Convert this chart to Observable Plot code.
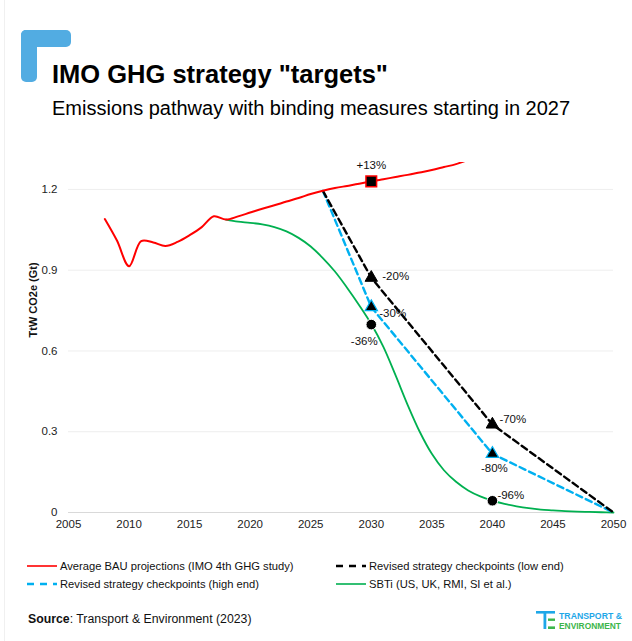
<!DOCTYPE html>
<html><head><meta charset="utf-8">
<script src="https://cdn.jsdelivr.net/npm/d3@7"></script>
<script src="https://cdn.jsdelivr.net/npm/@observablehq/plot@0.6"></script>
<style>
body{margin:0;background:#fff;font-family:"Liberation Sans",Arial,sans-serif;color:#000;}
#wrap{position:relative;width:632px;height:641px;overflow:hidden;background:#fff;}
.abs{position:absolute;white-space:nowrap;}
.leg{display:flex;align-items:center;height:14px;font-size:11.2px;color:#111;}
.leg svg{margin-right:3px;}
</style></head><body><div id="wrap">
<div class="abs" style="left:4px;top:0;width:1px;height:641px;background:#f0f0f0"></div>
<div class="abs" style="left:21px;top:30px;width:50px;height:17px;border-radius:5px;background:#52ACE2"></div>
<div class="abs" style="left:21px;top:30px;width:16px;height:52px;border-radius:5px;background:#52ACE2"></div>
<div class="abs" id="title" style="left:52px;top:62px;font-size:25.5px;line-height:25.5px;font-weight:bold;"></div>
<div class="abs" id="subtitle" style="left:52px;top:97.5px;font-size:20px;line-height:20px;"></div>
<div class="abs" id="chart" style="left:0;top:140px;"></div>
<div class="abs leg" id="leg0" style="left:27px;top:559px"></div>
<div class="abs leg" id="leg1" style="left:336px;top:559px"></div>
<div class="abs leg" id="leg2" style="left:27px;top:577px"></div>
<div class="abs leg" id="leg3" style="left:336px;top:577px"></div>
<div class="abs" id="source" style="left:28px;top:613px;font-size:12.3px;line-height:13px;color:#111"></div>
<svg class="abs" style="left:534px;top:607px" width="96" height="26">
  <rect x="2" y="4" width="19" height="2.6" fill="#1EA7E8"/>
  <rect x="9.5" y="4" width="2.8" height="18" fill="#1EA7E8"/>
  <rect x="14" y="11.5" width="7" height="2.4" fill="#3CB54A"/>
  <rect x="14" y="19.4" width="7" height="2.6" fill="#3CB54A"/>
  <text x="25" y="12" font-size="8.8" font-weight="bold" fill="#1EA7E8" textLength="63" lengthAdjust="spacingAndGlyphs">TRANSPORT &amp;</text>
  <text x="25" y="22" font-size="8.8" font-weight="bold" fill="#3CB54A" textLength="62" lengthAdjust="spacingAndGlyphs">ENVIRONMENT</text>
</svg>
</div>
<script>
// ---- text ----
const titleText = 'IMO GHG strategy "targets"';
const subtitleText = "Emissions pathway with binding measures starting in 2027";
const yLabel = "TtW CO2e (Gt)";
const sourceLabel = "Source";
const sourceText = ": Transport & Environment (2023)";

// ---- axes ----
const xDomain = [2005, 2050];
const yDomain = [0, 1.3];
const xTicks = [2005, 2010, 2015, 2020, 2025, 2030, 2035, 2040, 2045, 2050];
const yTicks = [0, 0.3, 0.6, 0.9, 1.2];
const yTickLabels = ["0", "0.3", "0.6", "0.9", "1.2"];

// ---- series ----
const seriesNames = [
  "Average BAU projections (IMO 4th GHG study)",
  "Revised strategy checkpoints (low end)",
  "Revised strategy checkpoints (high end)",
  "SBTi (US, UK, RMI, SI et al.)"
];
const seriesColors = ["#FF0000", "#000000", "#00B0F0", "#00B050"];

const bauYears = [2008,2009,2010,2011,2012,2013,2014,2015,2016,2017,2018,2019,2020,2021,2022,2023,2024,2025,2026,2027,2028,2029,2030,2031,2032,2033,2034,2035,2036,2037,2038];
const bauValues = [1.09,1.01,0.915,1.008,1.003,0.99,1.005,1.03,1.06,1.10,1.088,1.10,1.114,1.128,1.141,1.155,1.168,1.183,1.195,1.205,1.213,1.221,1.23,1.238,1.246,1.254,1.263,1.272,1.283,1.294,1.31];

const lowYears = [2026, 2030, 2040, 2050];
const lowValues = [1.195, 0.872, 0.327, 0];
const highYears = [2026, 2030, 2040, 2050];
const highValues = [1.195, 0.763, 0.218, 0];

const sbtiYears = [2018,2019,2020,2021,2022,2023,2024,2025,2026,2027,2028,2029,2030,2031,2032,2033,2034,2035,2036,2037,2038,2039,2040,2041,2042,2043,2044,2045,2046,2047,2048,2049,2050];
const sbtiValues = [1.088,1.08,1.076,1.07,1.06,1.044,1.02,0.988,0.945,0.895,0.835,0.77,0.70,0.615,0.51,0.4,0.3,0.218,0.157,0.114,0.082,0.06,0.044,0.032,0.023,0.016,0.011,0.008,0.005,0.003,0.002,0.001,0];

// ---- checkpoint markers ----
const bauMarkYear = [2030];
const bauMarkValue = [1.23];
const bauMarkLabel = ["+13%"];
const lowMarkYears = [2030, 2040];
const lowMarkValues = [0.872, 0.327];
const lowMarkLabels = ["-20%", "-70%"];
const highMarkYears = [2030, 2040];
const highMarkValues = [0.763, 0.218];
const highMarkLabels = ["-30%", "-80%"];
const sbtiMarkYears = [2030, 2040];
const sbtiMarkValues = [0.698, 0.0436];
const sbtiMarkLabels = ["-36%", "-96%"];

// ---- build tables ----
const zip = (xs, ys, extra) => xs.map((x, i) => ({x, y: ys[i], ...(extra ? {label: extra[i]} : {})}));
const bau = zip(bauYears, bauValues);
const low = zip(lowYears, lowValues);
const high = zip(highYears, highValues);
const sbti = zip(sbtiYears, sbtiValues);
const bauMark = zip(bauMarkYear, bauMarkValue, bauMarkLabel);
const lowMark = zip(lowMarkYears, lowMarkValues, lowMarkLabels);
const highMark = zip(highMarkYears, highMarkValues, highMarkLabels);
const sbtiMark = zip(sbtiMarkYears, sbtiMarkValues, sbtiMarkLabels);

document.getElementById("title").textContent = titleText;
document.getElementById("subtitle").textContent = subtitleText;
const src = document.getElementById("source");
const b = document.createElement("b"); b.textContent = sourceLabel;
src.appendChild(b); src.appendChild(document.createTextNode(sourceText));

const labelStyle = {fontSize: 11.5, fill: "#111"};
const chart = Plot.plot({
  width: 632,
  height: 402,
  marginLeft: 68,
  marginRight: 19,
  marginTop: 22,
  marginBottom: 30,
  style: {fontFamily: '"Liberation Sans", Arial, sans-serif', fontSize: "11.5px", color: "#222", background: "transparent"},
  x: {domain: xDomain},
  y: {domain: yDomain},
  marks: [
    Plot.gridY(yTicks.slice(1), {stroke: "#eeeeee", strokeOpacity: 1}),
    Plot.ruleY([0], {stroke: "#d9d9d9", strokeWidth: 1}),
    Plot.axisY({ticks: yTicks, tickSize: 0, tickPadding: 11, tickFormat: d => yTickLabels[yTicks.indexOf(d)], label: null}),
    Plot.axisX({ticks: xTicks, tickSize: 0, tickPadding: 7, tickFormat: d => String(d), label: null}),
    Plot.text([yLabel], {frameAnchor: "left", dx: -35, rotate: -90, fontWeight: "bold", fontSize: 11, fill: "#111"}),
    Plot.line(sbti, {x: "x", y: "y", stroke: seriesColors[3], strokeWidth: 1.8, curve: "catmull-rom"}),
    Plot.line(high, {x: "x", y: "y", stroke: seriesColors[2], strokeWidth: 2.4, strokeDasharray: "6.5,4"}),
    Plot.line(low, {x: "x", y: "y", stroke: seriesColors[1], strokeWidth: 2.4, strokeDasharray: "6.5,4", strokeDashoffset: 10}),
    Plot.line(bau, {x: "x", y: "y", stroke: seriesColors[0], strokeWidth: 2, curve: "catmull-rom", clip: true}),
    Plot.dot(bauMark, {x: "x", y: "y", symbol: "square", r: 6, fill: "#000", stroke: "#FF0000", strokeWidth: 1.5}),
    Plot.dot(lowMark, {x: "x", y: "y", symbol: "triangle", r: 4.6, fill: "#000", stroke: "#000", strokeWidth: 1}),
    Plot.dot(highMark, {x: "x", y: "y", symbol: "triangle", r: 4.6, fill: "#000", stroke: "#00B0F0", strokeWidth: 1.2}),
    Plot.dot(sbtiMark, {x: "x", y: "y", symbol: "circle", r: 5.3, fill: "#000", stroke: "#fff", strokeWidth: 1}),
    Plot.text(bauMark, {x: "x", y: "y", text: "label", dy: -16, textAnchor: "middle", ...labelStyle}),
    Plot.text([lowMark[0]], {x: "x", y: "y", text: "label", dx: 11, dy: -1, textAnchor: "start", ...labelStyle}),
    Plot.text([lowMark[1]], {x: "x", y: "y", text: "label", dx: 7, dy: -5, textAnchor: "start", ...labelStyle}),
    Plot.text([highMark[0]], {x: "x", y: "y", text: "label", dx: 8, dy: 6, textAnchor: "start", ...labelStyle}),
    Plot.text([highMark[1]], {x: "x", y: "y", text: "label", dx: 2, dy: 15, textAnchor: "middle", ...labelStyle}),
    Plot.text([sbtiMark[0]], {x: "x", y: "y", text: "label", dx: -7, dy: 17, textAnchor: "middle", ...labelStyle}),
    Plot.text([sbtiMark[1]], {x: "x", y: "y", text: "label", dx: 5, dy: -5, textAnchor: "start", ...labelStyle})
  ]
});
document.getElementById("chart").appendChild(chart);

// ---- legend ----
const legendDash = [null, "7,6", "7,6", null];
const legendOrder = [0, 1, 2, 3];
legendOrder.forEach((s, i) => {
  const el = document.getElementById("leg" + i);
  const svg = d3.create("svg").attr("width", 30).attr("height", 4);
  svg.append("line").attr("x1", 0).attr("x2", 30).attr("y1", 2).attr("y2", 2)
    .attr("stroke", seriesColors[s]).attr("stroke-width", legendDash[s] ? 2.5 : 1.6)
    .attr("stroke-dasharray", legendDash[s]);
  el.appendChild(svg.node());
  const sp = document.createElement("span"); sp.textContent = seriesNames[s];
  el.appendChild(sp);
});
</script>
</body></html>
